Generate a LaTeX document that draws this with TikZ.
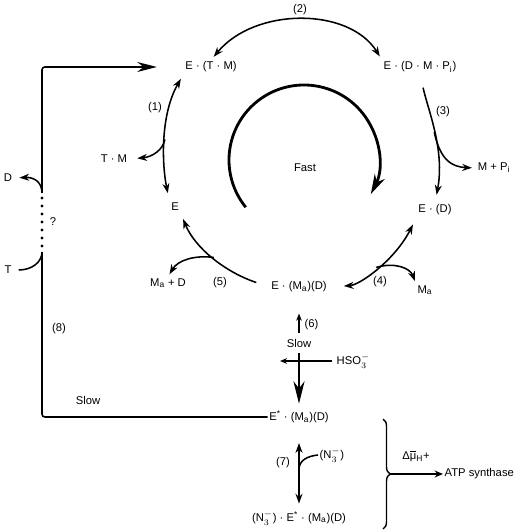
\documentclass[tikz,border=0pt]{standalone}
\usepackage{fontspec}
\setmainfont{Liberation Sans}
\usetikzlibrary{arrows.meta,decorations.pathreplacing}

\begin{document}
\begin{tikzpicture}[x=0.025cm,y=-0.025cm,
    sp/.style={inner sep=1pt,font=\fontsize{8}{9.6}\selectfont},
    rx/.style={line width=1.1pt},
    tip/.style={-{Stealth[length=7pt,width=5pt]}},
    dbl/.style={{Stealth[length=7pt,width=5pt]}-{Stealth[length=7pt,width=5pt]}}]
    \useasboundingbox (0,0) rectangle (530,530);
    % enzyme states
    \node[sp] (ETM) at (211,67) {E · (T · M)};
    \node[sp] (EDMP) at (420,67) {E · (D · M · P\textsubscript{i})};
    \node[sp] (ED) at (435,210) {E · (D)};
    \node[sp] (E) at (175,207) {E};
    \node[sp] (EMD) at (299,287) {E · (M\textsubscript{a})(D)};
    \node[sp] (Estar) at (299,417) {E\textsuperscript{*} · (M\textsubscript{a})(D)};
    \node[sp] (EN) at (299,518) {(N$_3^-$) · E\textsuperscript{*} · (M\textsubscript{a})(D)};
    % ligands
    \node[sp] (TM) at (114,159) {T · M};
    \node[sp] (MP) at (494,168) {M + P\textsubscript{i}};
    \node[sp] (Ma) at (425,290) {M\textsubscript{a}};
    \node[sp] (MaD) at (168,283) {M\textsubscript{a} + D};
    \node[sp] (D) at (8,178) {D};
    \node[sp] (T) at (8,270) {T};
    \node[sp,anchor=west] (HSO) at (335,361) {HSO$_3^-$};
    \node[sp,anchor=west] (N3) at (318,455) {(N$_3^-$)};
    \node[sp,anchor=west] (ATP) at (443,474) {ATP synthase};
    % step labels
    \node[sp] (l1) at (155,108) {(1)};
    \node[sp] (l2) at (300,10) {(2)};
    \node[sp] (l3) at (443,112) {(3)};
    \node[sp] (l4) at (380,282) {(4)};
    \node[sp] (l5) at (220,283) {(5)};
    \node[sp,anchor=west] (l6) at (303,325) {(6)};
    \node[sp] (l7) at (283,463) {(7)};
    \node[sp] (l8) at (59,329) {(8)};
    \node[sp] (fast) at (305,168) {Fast};
    \node[sp] (slow) at (299,343) {Slow};
    \node[sp] (slow2) at (88,400) {Slow};
    \node[sp] (q) at (53,222) {?};

    % (2)
    \draw[rx,dbl,shorten <=3pt,shorten >=3pt] (ETM.north) .. controls (255,7) and (349,7) .. (EDMP.north west);
    % (1)
    \draw[rx,dbl,shorten <=6pt,shorten >=4pt] (E.north west) .. controls (162,165) and (160,115) .. (ETM.south west) coordinate[pos=0.5] (m1);
    \draw[rx,tip,shorten >=6pt] (m1) .. controls (163,150) and (152,157) .. (TM.east);
    % (3)
    \draw[rx,tip,shorten <=10pt,shorten >=6pt] (EDMP.south) .. controls (428,110) and (445,150) .. (ED.north) coordinate[pos=0.5] (m3);
    \draw[rx,tip,shorten >=3pt] (m3) .. controls (440,160) and (452,167) .. (MP.west);
    % (4)
    \draw[rx,dbl,shorten <=11pt,shorten >=6pt] (EMD.east) .. controls (360,285) and (395,260) .. (ED.south west) coordinate[pos=0.5] (m4);
    \draw[rx,tip,shorten >=2pt] (m4) .. controls (395,262) and (410,268) .. (Ma.north west);
    % (5)
    \draw[rx,tip,shorten <=10pt,shorten >=5pt] (EMD.west) .. controls (225,272) and (195,248) .. (E.south east) coordinate[pos=0.5] (m5);
    \draw[rx,tip,shorten >=2pt] (m5) .. controls (195,255) and (178,260) .. (MaD.north);
    % fast cycle
    \coordinate (cyc) at (304,160);
    \draw[line width=2pt,-{Stealth[length=14pt,width=8pt]}] (cyc) ++(141:75) arc[start angle=141,end angle=387,radius=75];

    % (6) slow step
    \coordinate (c6) at (299,333);
    \draw[line width=0.9pt,-{Stealth[length=5pt,width=4pt]},shorten >=14pt] (c6) -- (EMD.south);
    \coordinate (c6b) at (299,353);
    \draw[rx,-{Stealth[length=16pt,width=8pt]},shorten >=4pt] (c6b) -- (Estar.north);
    \coordinate (hso) at (280,361);
    \draw[rx,-{Stealth[length=5pt,width=4pt]},shorten <=2pt] (HSO.west) -- (hso);
    % (7)
    \draw[rx,dbl,shorten <=13pt,shorten >=4pt] (Estar.south) -- (EN.north) coordinate[pos=0.53] (m7);
    \draw[rx] (m7) .. controls (299,460) and (308,456) .. (N3.west);

    % (8) slow return
    \coordinate (dtop) at (42,193);
    \coordinate (dbot) at (42,252);
    \draw[rx,rounded corners=2pt] (Estar.west) -| (dbot);
    \draw[rx,rounded corners=2pt,-{Stealth[length=14pt,width=7pt]},shorten >=19pt] (dtop) |- (ETM.west);
    \foreach \y in {198,206,...,246}
        \fill (42,\y) circle [radius=1.2pt];
    \draw[rx,tip,shorten >=4pt] (dtop) .. controls (42,182) and (34,177) .. (D.east);
    \draw[rx,shorten <=4pt] (T.east) .. controls (32,270) and (42,262) .. (dbot);

    % proton gradient
    \coordinate (brtop) at (383,419);
    \coordinate (brbot) at (383,529);
    \draw[line width=1pt,decorate,decoration={brace,amplitude=5pt}] (brtop) -- (brbot);
    \coordinate (brtip) at (389,474);
    \draw[line width=1.6pt,-{Stealth[length=6pt,width=5pt]}] (brtip) -- (ATP.west) node[sp,midway,above=7pt] (dmu) {Δ$\overline{\mbox{μ}}$\textsubscript{H}+};
\end{tikzpicture}
\end{document}
